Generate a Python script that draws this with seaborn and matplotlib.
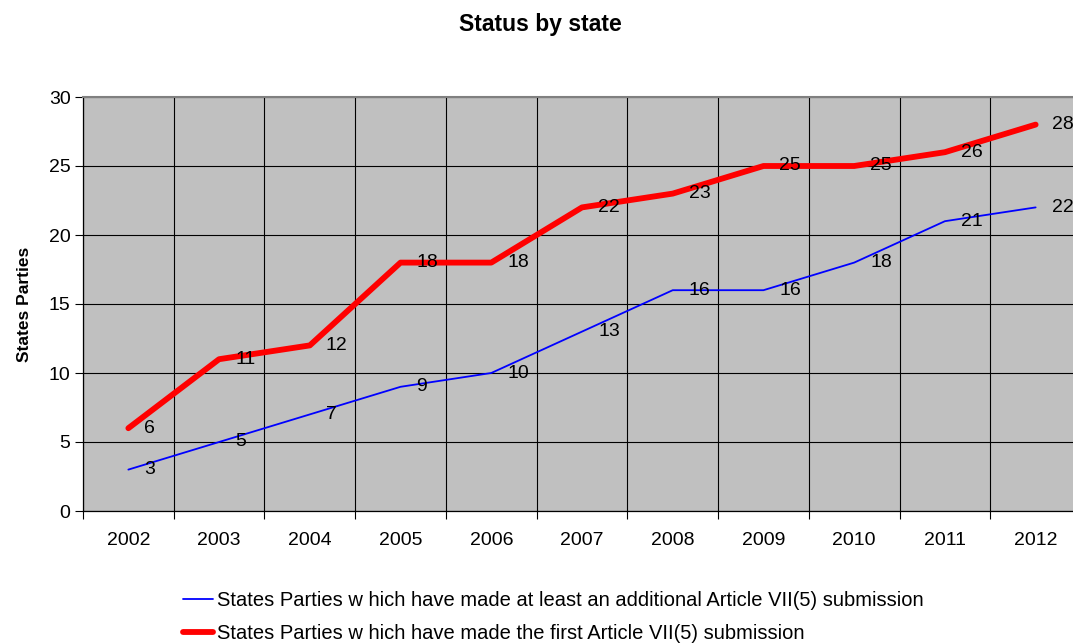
import matplotlib
matplotlib.use("Agg")
import matplotlib.pyplot as plt
import seaborn as sns
import pandas as pd
import numpy as np

years = ["2002", "2003", "2004", "2005", "2006", "2007", "2008", "2009", "2010", "2011", "2012"]
additional = [3, 5, 7, 9, 10, 13, 16, 16, 18, 21, 22]
first = [6, 11, 12, 18, 18, 22, 23, 25, 25, 26, 28]
label_add = "States Parties w hich have made at least an additional Article VII(5) submission"
label_first = "States Parties w hich have made the first Article VII(5) submission"

sns.set_theme(style="white")
plt.rcParams['font.family'] = ['Liberation Sans', 'DejaVu Sans']
plt.rcParams['text.color'] = 'black'
plt.rcParams['axes.labelcolor'] = 'black'
plt.rcParams['xtick.color'] = 'black'
plt.rcParams['ytick.color'] = 'black'

fig = plt.figure(figsize=(10.73, 6.44), dpi=100)
ax = fig.add_axes([83/1073, 133/644, 998/1073, 414/644])
ax.set_facecolor("#C0C0C0")

idx = np.arange(len(years))
df = pd.DataFrame({"x": np.concatenate([idx, idx]),
                   "y": additional + first,
                   "series": [label_add]*len(years) + [label_first]*len(years)})

sns.lineplot(data=df[df.series == label_add], x="x", y="y", color="#0000FF", lw=1.3, ax=ax, label=label_add, legend=False)
sns.lineplot(data=df[df.series == label_first], x="x", y="y", color="#FF0000", lw=4.2, ax=ax, label=label_first, legend=False,
             solid_capstyle="round")

for i in idx:
    ax.annotate(str(additional[i]), (i, additional[i]), xytext=(16, 0), textcoords="offset pixels",
                ha="left", va="center", fontsize=14, color="black", annotation_clip=False)
    ax.annotate(str(first[i]), (i, first[i]), xytext=(16, 0), textcoords="offset pixels",
                ha="left", va="center", fontsize=14, color="black", annotation_clip=False)

ax.set_xlim(-0.5, len(years) - 0.5)
ax.set_ylim(0, 30)
ax.set_yticks(range(0, 31, 5))
ax.set_xticks(idx)
ax.set_xticklabels(years)
ax.set_xticks(np.arange(-0.5, len(years), 1.0), minor=True)
ax.tick_params(axis="x", which="major", length=0, pad=15, labelsize=14, colors="black")
ax.tick_params(axis="x", which="minor", length=6, width=0.8, color="black", direction="out", bottom=True)
ax.tick_params(axis="y", which="major", length=6, width=0.8, color="black", direction="out", left=True, labelsize=14, pad=3)
ax.grid(False)
ax.yaxis.grid(True, color="black", lw=0.8)
ax.xaxis.grid(True, which="minor", color="black", lw=0.8)
ax.set_axisbelow(True)
for s in ["left", "bottom"]:
    ax.spines[s].set_color("black")
    ax.spines[s].set_linewidth(0.9)
ax.spines["top"].set_color("#808080")
ax.spines["top"].set_linewidth(1.5)
ax.spines["right"].set_visible(False)

ax.set_xlabel("")
ax.set_ylabel("States Parties", fontsize=12.5, fontweight="bold", labelpad=12, color="black")
fig.text(540/1073, 1 - 25/644, "Status by state", ha="center", va="center", fontsize=16.5, fontweight="bold", color="black")

handles, labels = ax.get_legend_handles_labels()
leg = fig.legend(handles, labels, loc="center left", bbox_to_anchor=(183/1073, 1 - 617/644), frameon=False,
                 fontsize=14.5, handlelength=1.5, handletextpad=0.2, labelspacing=0.72, borderpad=0, borderaxespad=0)
for t in leg.get_texts():
    t.set_color("black")

fig.savefig("out.png", dpi=100)
